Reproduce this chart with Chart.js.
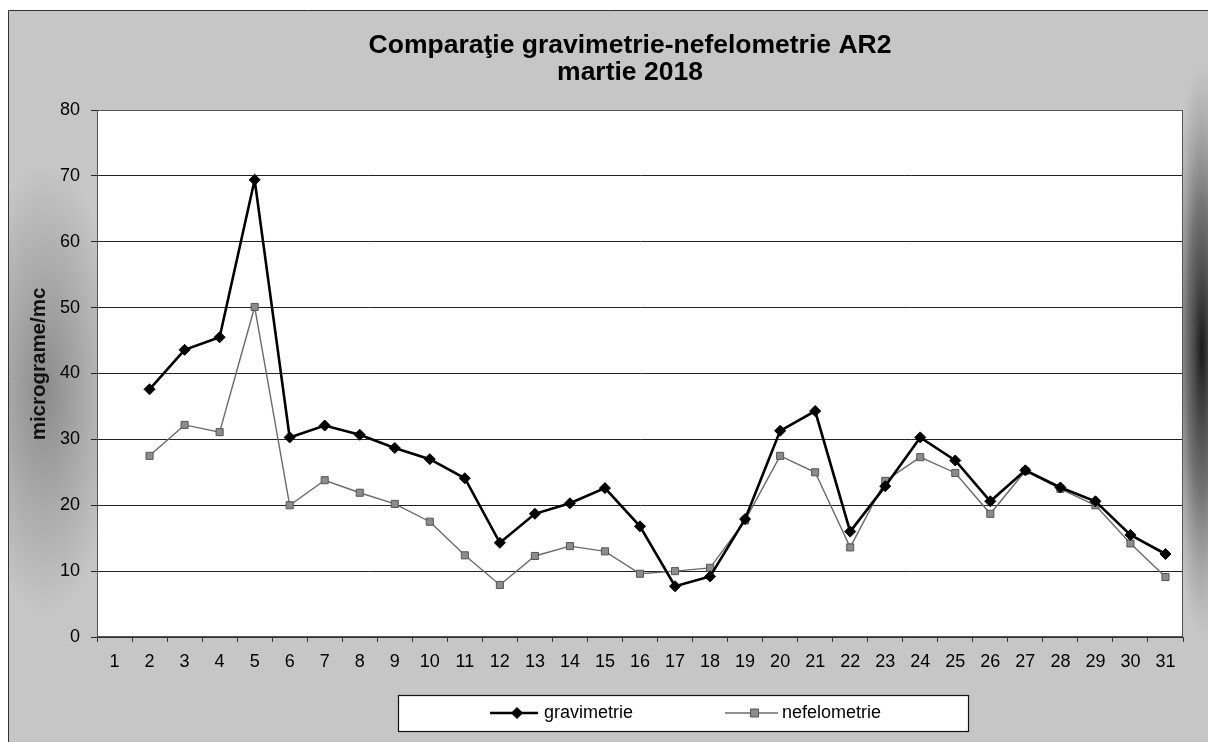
<!DOCTYPE html>
<html>
<head>
<meta charset="utf-8">
<script src="https://cdn.jsdelivr.net/npm/chart.js@4"></script>
<style>
  html, body { margin: 0; padding: 0; background: #ffffff; }
  #wrap { width: 1208px; height: 742px; position: relative; }
</style>
</head>
<body>
<div id="wrap"><canvas id="c" width="1208" height="742"></canvas></div>
<script>
const titleLines = ['Comparaţie gravimetrie-nefelometrie AR2', 'martie 2018'];
const yAxisTitle = 'micrograme/mc';
const days = ['1','2','3','4','5','6','7','8','9','10','11','12','13','14','15','16','17','18','19','20','21','22','23','24','25','26','27','28','29','30','31'];
const gravimetrie = [null, 37.6, 43.6, 45.5, 69.4, 30.3, 32.1, 30.7, 28.7, 27.0, 24.1, 14.3, 18.7, 20.3, 22.6, 16.8, 7.7, 9.2, 17.9, 31.3, 34.3, 16.0, 22.9, 30.3, 26.8, 20.6, 25.3, 22.7, 20.6, 15.5, 12.6];
const nefelometrie = [null, 27.5, 32.2, 31.1, 50.1, 20.0, 23.8, 21.9, 20.2, 17.5, 12.4, 7.9, 12.3, 13.8, 13.0, 9.6, 10.0, 10.5, 17.7, 27.5, 25.0, 13.6, 23.7, 27.3, 24.9, 18.7, 25.2, 22.5, 20.0, 14.2, 9.1];
const seriesNames = ['gravimetrie', 'nefelometrie'];
const yTicks = [0, 10, 20, 30, 40, 50, 60, 70, 80];

const FONT = '"Liberation Sans", Arial, sans-serif';

const bgPlugin = {
  id: 'bg',
  beforeDraw(chart) {
    const ctx = chart.ctx;
    const W = chart.width, H = chart.height;
    ctx.save();
    ctx.fillStyle = '#ffffff';
    ctx.fillRect(0, 0, W, H);
    ctx.fillStyle = '#c6c6c6';
    ctx.fillRect(8, 10, W - 8, H - 10);
    // left darker cloud
    ctx.save();
    ctx.translate(45, 390);
    ctx.scale(1, 3.0);
    let g = ctx.createRadialGradient(0, 0, 0, 0, 0, 75);
    g.addColorStop(0, 'rgba(80,80,80,0.5)');
    g.addColorStop(1, 'rgba(80,80,80,0)');
    ctx.fillStyle = g;
    ctx.fillRect(-37, -80, 89, 160);
    ctx.restore();
    // right darker band
    ctx.save();
    ctx.translate(1202, 350);
    ctx.scale(1, 9);
    g = ctx.createRadialGradient(0, 0, 0, 0, 0, 32);
    g.addColorStop(0, 'rgba(15,15,15,0.95)');
    g.addColorStop(0.5, 'rgba(60,60,60,0.6)');
    g.addColorStop(1, 'rgba(120,120,120,0)');
    ctx.fillStyle = g;
    ctx.fillRect(-32, -40, 64, 80);
    ctx.restore();
    ctx.strokeStyle = '#333';
    ctx.lineWidth = 1;
    ctx.beginPath();
    ctx.moveTo(8.5, H);
    ctx.lineTo(8.5, 10.5);
    ctx.lineTo(W, 10.5);
    ctx.stroke();
    const a = chart.chartArea;
    ctx.fillStyle = '#ffffff';
    ctx.fillRect(a.left, a.top, a.right - a.left, a.bottom - a.top);
    ctx.restore();
  },
  afterDatasetsDraw(chart) {
    const a = chart.chartArea;
    const ctx = chart.ctx;
    ctx.save();
    ctx.strokeStyle = '#555';
    ctx.lineWidth = 1;
    ctx.strokeRect(a.left + 0.5, a.top + 0.5, a.right - a.left - 1, a.bottom - a.top - 1);
    ctx.restore();
  },
  afterDraw(chart) {
    const ctx = chart.ctx;
    ctx.save();
    // title
    ctx.fillStyle = '#000';
    ctx.font = 'bold 26.5px ' + FONT;
    ctx.textAlign = 'center';
    ctx.textBaseline = 'alphabetic';
    ctx.fillText(titleLines[0], 630, 53);
    ctx.fillText(titleLines[1], 630, 80);
    // y axis title
    ctx.save();
    ctx.translate(39, 364);
    ctx.rotate(-Math.PI / 2);
    ctx.font = 'bold 20.5px ' + FONT;
    ctx.fillStyle = '#111';
    ctx.textAlign = 'center';
    ctx.textBaseline = 'middle';
    ctx.fillText(yAxisTitle, 0, 0);
    ctx.restore();
    // legend box
    const bx = 398, by = 695, bw = 570, bh = 36;
    ctx.fillStyle = '#ffffff';
    ctx.fillRect(bx, by, bw, bh);
    ctx.strokeStyle = '#111';
    ctx.lineWidth = 1.2;
    ctx.strokeRect(bx + 0.5, by + 0.5, bw, bh);
    const cy = 713;
    const items = [
      { x: 490, w: 48, tx: 544, ds: chart.data.datasets[0] },
      { x: 725, w: 53, tx: 782, ds: chart.data.datasets[1] }
    ];
    items.forEach(it => {
      const ds = it.ds;
      ctx.strokeStyle = ds.borderColor;
      ctx.lineWidth = ds.borderWidth;
      ctx.beginPath();
      ctx.moveTo(it.x, cy);
      ctx.lineTo(it.x + it.w, cy);
      ctx.stroke();
      ctx.fillStyle = ds.pointBackgroundColor;
      ctx.strokeStyle = ds.pointBorderColor;
      ctx.lineWidth = ds.pointBorderWidth;
      ctx.beginPath();
      const mx = it.x + it.w / 2 + 3;
      if (ds.pointStyle === 'rectRot') {
        const r = ds.pointRadius;
        ctx.moveTo(mx, cy - r); ctx.lineTo(mx + r, cy);
        ctx.lineTo(mx, cy + r); ctx.lineTo(mx - r, cy); ctx.closePath();
      } else {
        const r = ds.pointRadius * 0.8;
        ctx.rect(mx - r, cy - r, 2 * r, 2 * r);
      }
      ctx.fill(); ctx.stroke();
      ctx.fillStyle = '#000';
      ctx.font = '18px ' + FONT;
      ctx.textBaseline = 'middle';
      ctx.textAlign = 'left';
      ctx.fillText(ds.label, it.tx, cy);
    });
    ctx.restore();
  }
};

new Chart(document.getElementById('c'), {
  type: 'line',
  data: {
    labels: days,
    datasets: [
      {
        label: seriesNames[0],
        data: gravimetrie,
        borderColor: '#000000',
        backgroundColor: '#000000',
        borderWidth: 2.6,
        pointStyle: 'rectRot',
        pointRadius: 5.5,
        pointBackgroundColor: '#000000',
        pointBorderColor: '#000000',
        pointBorderWidth: 1,
        tension: 0,
        spanGaps: false
      },
      {
        label: seriesNames[1],
        data: nefelometrie,
        borderColor: '#6a6a6a',
        backgroundColor: '#8a8a8a',
        borderWidth: 1.4,
        pointStyle: 'rect',
        pointRadius: 5,
        pointBackgroundColor: '#8c8c8c',
        pointBorderColor: '#555555',
        pointBorderWidth: 1,
        tension: 0,
        spanGaps: false
      }
    ]
  },
  options: {
    responsive: false,
    animation: false,
    layout: { padding: { left: 0, right: 25, top: 110, bottom: 65 } },
    plugins: {
      legend: { display: false },
      tooltip: { enabled: false },
      title: { display: false }
    },
    scales: {
      x: {
        offset: true,
        grid: { display: true, drawOnChartArea: false, drawTicks: true, tickLength: 5, offset: true, color: '#333' },
        border: { display: true, color: '#333', width: 1 },
        ticks: { color: '#000', font: { family: FONT, size: 18 }, padding: 9, maxRotation: 0, autoSkip: false },
        afterFit(scale) { scale.height = 40; }
      },
      y: {
        min: 0, max: 80,
        afterBuildTicks(scale) { scale.ticks = yTicks.map(v => ({ value: v })); },
        grid: { color: '#222', lineWidth: 1, drawTicks: true, tickLength: 6 },
        border: { display: true, color: '#333', width: 1 },
        ticks: { color: '#000', font: { family: FONT, size: 18 }, padding: 11 },
        afterFit(scale) { scale.width = 97; }
      }
    }
  },
  plugins: [bgPlugin]
});
</script>
</body>
</html>
